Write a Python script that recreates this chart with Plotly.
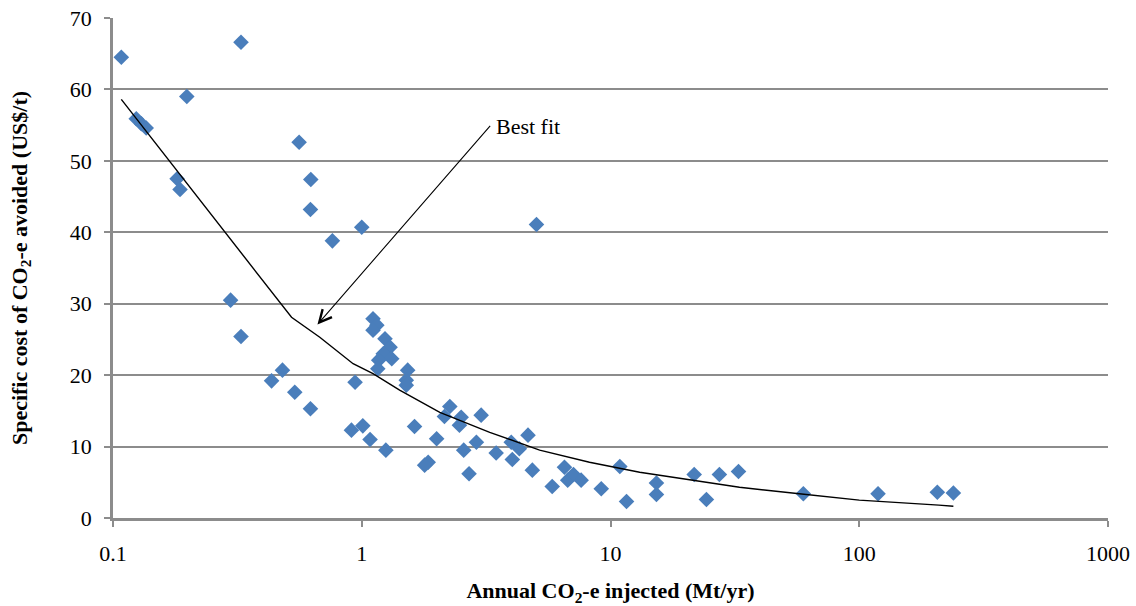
import plotly.graph_objects as go

# Observed data (Mt/yr, US$/t)
inj = [0.108, 0.327, 0.198, 0.124, 0.130, 0.136, 0.181, 0.186,
       0.56, 0.624, 0.622, 0.762, 1.0, 5.04,
       0.297, 0.327, 0.434, 0.48, 0.538, 0.622,
       0.94, 0.909, 1.01, 1.08, 1.25,
       1.11, 1.15, 1.11, 1.24, 1.30, 1.22, 1.32, 1.17, 1.16,
       1.53, 1.51, 1.51,
       2.26, 2.15, 2.51, 2.47, 3.02, 1.63, 2.0, 2.89, 2.57, 3.47,
       1.85, 1.79, 2.70, 3.99, 4.3, 4.66, 4.03, 4.85,
       5.83, 6.53, 6.73, 7.1, 7.62, 9.18, 10.9, 11.6, 15.3, 15.3,
       21.7, 24.3, 27.4, 32.7, 59.6, 119, 206, 239]
cost = [64.5, 66.6, 59.0, 55.9, 55.2, 54.6, 47.5, 46.0,
        52.6, 47.4, 43.2, 38.8, 40.7, 41.1,
        30.5, 25.4, 19.2, 20.7, 17.6, 15.3,
        19.0, 12.3, 12.9, 11.0, 9.5,
        27.9, 27.0, 26.3, 25.1, 23.9, 23.0, 22.3, 22.1, 20.9,
        20.7, 19.3, 18.6,
        15.6, 14.2, 14.1, 13.0, 14.4, 12.8, 11.1, 10.6, 9.5, 9.1,
        7.8, 7.4, 6.2, 10.6, 9.7, 11.6, 8.2, 6.7,
        4.4, 7.1, 5.3, 6.1, 5.3, 4.1, 7.2, 2.3, 4.9, 3.3,
        6.1, 2.6, 6.1, 6.5, 3.4, 3.4, 3.6, 3.5]

# Best-fit curve
fit_x = [0.108, 0.522, 0.678, 0.923, 1.11, 1.42, 2.06, 3.27, 5.19, 8.23,
         13.1, 20.8, 33.0, 57.4, 100, 209, 239]
fit_y = [58.6, 28.1, 25.3, 21.6, 20.2, 17.9, 14.8, 12.0, 9.5, 7.8,
         6.4, 5.3, 4.3, 3.4, 2.5, 1.8, 1.65]

x_ticks = [0.1, 1, 10, 100, 1000]
x_tick_labels = ["0.1", "1", "10", "100", "1000"]
y_ticks = [0, 10, 20, 30, 40, 50, 60, 70]

FONT = "Liberation Serif, Times New Roman, serif"
GRID = "#8c8c8c"
FS = 22

fig = go.Figure()
fig.add_trace(go.Scatter(
    x=inj, y=cost, mode="markers",
    marker=dict(symbol="diamond", size=12, color="#4A7EBB", line=dict(width=0)),
    showlegend=False, cliponaxis=False))
fig.add_trace(go.Scatter(
    x=fit_x, y=fit_y, mode="lines",
    line=dict(color="black", width=1.4),
    showlegend=False))

fig.add_annotation(x=-0.178, y=27.1, xref="x", yref="y",
                   ax=174, ay=-200, text="", showarrow=True,
                   arrowhead=5, arrowsize=2.2, arrowwidth=1.1, arrowcolor="black")
fig.add_annotation(x=0.53, y=54.8, xref="x", yref="y", text="Best fit",
                   showarrow=False, xanchor="left", yanchor="middle",
                   font=dict(family=FONT, size=FS, color="black"))

fig.update_xaxes(type="log", range=[-1, 3], tickvals=x_ticks, ticktext=x_tick_labels,
                 automargin=False,
                 showgrid=False, showline=True, linecolor=GRID, linewidth=2.5,
                 ticks="outside", ticklen=6, tickcolor=GRID, tickwidth=1.5,
                 ticklabelstandoff=8,
                 tickfont=dict(family=FONT, size=FS, color="black"),
                 title=dict(text="<b>Annual CO<sub>2</sub>-e injected (Mt/yr)</b>",
                            font=dict(family=FONT, size=FS, color="black"), standoff=27),
                 zeroline=False)
fig.update_yaxes(range=[0, 70], tickvals=y_ticks,
                 automargin=False,
                 showgrid=True, gridcolor=GRID, gridwidth=1.5,
                 showline=True, linecolor=GRID, linewidth=2.5,
                 ticks="outside", ticklen=6, tickcolor=GRID, tickwidth=1.5,
                 ticklabelstandoff=8,
                 tickfont=dict(family=FONT, size=FS, color="black"),
                 title=dict(text="<b>Specific cost of CO<sub>2</sub>-e avoided (US$/t)</b>",
                            font=dict(family=FONT, size=FS, color="black"), standoff=37),
                 zeroline=False)

fig.update_layout(width=1136, height=606, plot_bgcolor="white", paper_bgcolor="white",
                  margin=dict(l=113, r=28, t=18, b=88))

fig.write_html("out.html")
